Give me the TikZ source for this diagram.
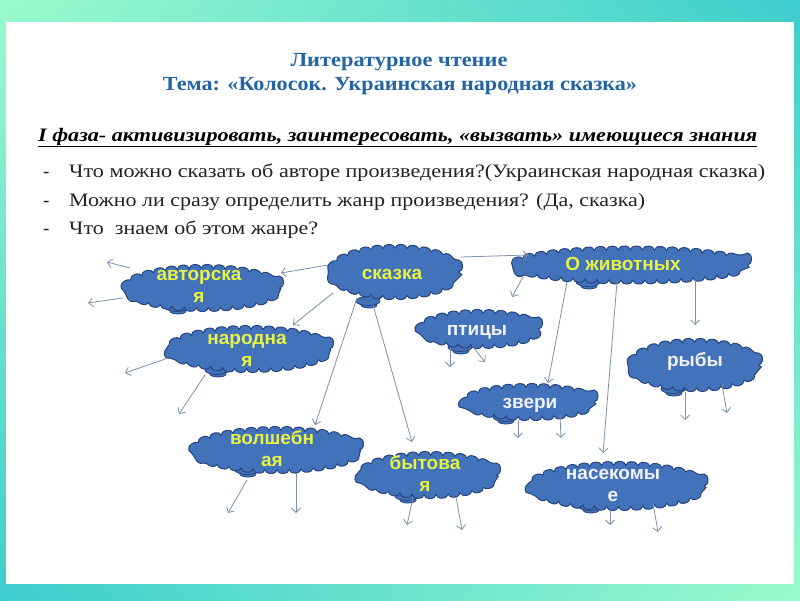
\documentclass[tikz,border=0pt]{standalone}
\usepackage{fontspec}
\setmainfont{Liberation Serif}
\setsansfont{Liberation Sans}
\usetikzlibrary{shapes.geometric,decorations.pathmorphing,arrows.meta,shadings}
\definecolor{mint}{RGB}{155,250,205}
\definecolor{tealc}{RGB}{60,205,205}
\definecolor{cloudfill}{RGB}{66,114,186}
\definecolor{cloudline}{RGB}{38,68,128}
\definecolor{cyel}{RGB}{232,242,70}
\definecolor{cwhite}{RGB}{240,242,246}
\definecolor{titleblue}{RGB}{35,100,165}
\definecolor{arrowc}{RGB}{125,145,170}
\definecolor{bodyc}{RGB}{35,35,35}
\newcommand\fitw[2]{\resizebox{#1pt}{\height}{#2}}
\begin{document}
\begin{tikzpicture}[x=1pt,y=-1pt,
  cloudbox/.style={ellipse, draw=cloudline, fill=cloudfill, line width=1pt, inner sep=0pt,
    decorate, decoration={bumps, mirror, segment length=24pt, amplitude=4pt}},
  ctext/.style={inner sep=0pt, align=center, font=\sffamily\bfseries\fontsize{19}{22}\selectfont},
  yel/.style={ctext, text=cyel},
  wht/.style={ctext, text=cwhite},
  tailshape/.style={draw=cloudline, fill=cloudfill, line width=0.8pt},
  conn/.style={draw=arrowc, line width=0.8pt, -{Straight Barb[length=4.5pt,width=9pt]}},
  txt/.style={inner sep=0pt, text=bodyc, font=\fontsize{19}{24}\selectfont},
  ttl/.style={inner sep=0pt, text=titleblue, font=\bfseries\fontsize{20}{24}\selectfont}
]
\useasboundingbox (0,0) rectangle (800,600);
\shade[upper left=mint, upper right=tealc, lower left=tealc, lower right=mint] (0,0) rectangle (800,600);
\fill[white] (6,22) rectangle (794,584);

% titles
\node[ttl, anchor=base] (t1) at (399,66) {\fitw{217}{Литературное чтение}};
\node[ttl, anchor=base] (t2) at (400,90) {\fitw{474}{Тема: «Колосок. Украинская народная сказка»}};
\node[txt, anchor=base west, text=black, font=\bfseries\itshape\fontsize{19}{24}\selectfont] (head) at (38,141)
  {\fitw{719}{\underline{I фаза- активизировать, заинтересовать, «вызвать» имеющиеся знания}}};
\node[txt, anchor=base west] (d1) at (43,177) {-};
\node[txt, anchor=base west] (l1) at (69,177) {\fitw{696}{Что можно сказать об авторе произведения?(Украинская народная сказка)}};
\node[txt, anchor=base west] (d2) at (43,206) {-};
\node[txt, anchor=base west] (l2) at (69,206) {\fitw{576}{Можно ли сразу определить жанр произведения? (Да, сказка)}};
\node[txt, anchor=base west] (d3) at (43,234) {-};
\node[txt, anchor=base west] (l3) at (69,234) {\fitw{249}{Что\ \ знаем об этом жанре?}};

% tails
\foreach \x/\y in {177/307, 368/301, 217/370, 588/282, 460/347, 673/389, 505/417, 590/506, 247/470, 407/496}{
  \draw[tailshape] (\x+1,\y+4) ellipse [x radius=8, y radius=3];
  \draw[tailshape] (\x,\y) ellipse [x radius=12, y radius=4.5];
}

% clouds
\node[cloudbox, minimum width=153pt, minimum height=39pt] (avt) at (203,288) {};
\node[cloudbox, minimum width=127pt, minimum height=47pt] (skazka) at (395,272) {};
\node[cloudbox, minimum width=159pt, minimum height=39pt] (narod) at (250,349) {};
\node[cloudbox, minimum width=233pt, minimum height=30pt] (zhiv) at (631,265) {};
\node[cloudbox, minimum width=117pt, minimum height=31pt] (ptic) at (480,329) {};
\node[cloudbox, minimum width=127pt, minimum height=45pt] (ryby) at (695,365) {};
\node[cloudbox, minimum width=128pt, minimum height=29pt] (zveri) at (530,402) {};
\node[cloudbox, minimum width=172pt, minimum height=41pt] (nasek) at (618,486) {};
\node[cloudbox, minimum width=165pt, minimum height=39pt] (volsh) at (277,450) {};
\node[cloudbox, minimum width=135pt, minimum height=39pt] (byt) at (429,475) {};

% cloud texts (base = baseline of the last line)
\node[yel, anchor=base] (avtT) at (199,302) {авторска\\я};
\node[yel, anchor=base] (skazkaT) at (392,279) {сказка};
\node[yel, anchor=base] (narodT) at (247,366) {народна\\я};
\node[yel, anchor=base] (zhivT) at (623,270) {О животных};
\node[wht, anchor=base] (pticT) at (477,335) {птицы};
\node[wht, anchor=base] (rybyT) at (695,366) {рыбы};
\node[wht, anchor=base] (zveriT) at (530,408) {звери};
\node[wht, anchor=base] (nasekT) at (613,501) {насекомы\\е};
\node[yel, anchor=base] (volshT) at (272,466) {волшебн\\ая};
\node[yel, anchor=base] (bytT) at (425,491) {бытова\\я};

% free ends
\coordinate (a1) at (107,262);
\coordinate (a2) at (88,303);
\coordinate (n1) at (125,373);
\coordinate (n2) at (179,414);
\coordinate (v1) at (228,513);
\coordinate (v2) at (296,513);
\coordinate (b1) at (407,525);
\coordinate (b2) at (462,530);
\coordinate (p1) at (450,367);
\coordinate (p2) at (485,362);
\coordinate (r1) at (685,420);
\coordinate (r2) at (727,413);
\coordinate (z1) at (518,438);
\coordinate (z2) at (561,438);
\coordinate (k1) at (610,525);
\coordinate (k2) at (658,532);

% connectors
\draw[conn] ([shift={(-67,-7)}]skazka.center) -- ([shift={(78,-15)}]avt.center);
\draw[conn] ([shift={(-62,21)}]skazka.center) -- ([shift={(43,-24)}]narod.center);
\draw[conn] ([shift={(-38,26)}]skazka.center) -- ([shift={(38,-25)}]volsh.center);
\draw[conn] ([shift={(-22,33)}]skazka.center) -- ([shift={(-17,-33)}]byt.center);
\draw[conn] ([shift={(66,-15)}]skazka.center) -- ([shift={(-103,-10)}]zhiv.center);
\draw[conn] ([shift={(-73,-20)}]avt.center) -- (a1);
\draw[conn] ([shift={(-80,10)}]avt.center) -- (a2);
\draw[conn] ([shift={(-82,9)}]narod.center) -- (n1);
\draw[conn] ([shift={(-45,26)}]narod.center) -- (n2);
\draw[conn] ([shift={(-30,30)}]volsh.center) -- (v1);
\draw[conn] ([shift={(19,23)}]volsh.center) -- (v2);
\draw[conn] ([shift={(-16,22)}]byt.center) -- (b1);
\draw[conn] ([shift={(27,22)}]byt.center) -- (b2);
\draw[conn] ([shift={(-108,12)}]zhiv.center) -- ([shift={(32,-32)}]ptic.center);
\draw[conn] ([shift={(-64,17)}]zhiv.center) -- ([shift={(18,-19)}]zveri.center);
\draw[conn] ([shift={(-14,17)}]zhiv.center) -- ([shift={(-15,-33)}]nasek.center);
\draw[conn] ([shift={(64,15)}]zhiv.center) -- ([shift={(0,-40)}]ryby.center);
\draw[conn] ([shift={(-30,19)}]ptic.center) -- (p1);
\draw[conn] ([shift={(-7,18)}]ptic.center) -- (p2);
\draw[conn] ([shift={(-10,27)}]ryby.center) -- (r1);
\draw[conn] ([shift={(27,20)}]ryby.center) -- (r2);
\draw[conn] ([shift={(-12,18)}]zveri.center) -- (z1);
\draw[conn] ([shift={(30,13)}]zveri.center) -- (z2);
\draw[conn] ([shift={(-8,24)}]nasek.center) -- (k1);
\draw[conn] ([shift={(35,17)}]nasek.center) -- (k2);
\end{tikzpicture}
\end{document}
